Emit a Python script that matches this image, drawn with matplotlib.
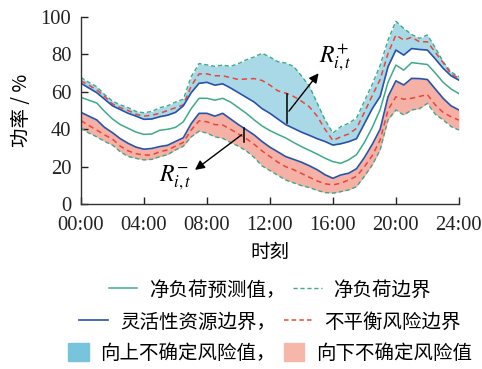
import matplotlib
matplotlib.use('Agg')
import matplotlib.pyplot as plt
from matplotlib.lines import Line2D
from matplotlib.patches import Patch

plt.rcParams['font.family'] = ['Liberation Serif', 'Noto Sans CJK SC', 'DejaVu Sans']
plt.rcParams['mathtext.fontset'] = 'stix'

# half-hour time grid (%)
hours = [i * 0.5 for i in range(49)]

net_load = [57, 55.5, 54, 49.5, 45.5, 42.5, 40.5, 38.5, 37.3, 37.5, 39.5, 40, 41, 44, 51, 56.5,
            56.5, 55.5, 56.5, 54.5, 51.5, 48.5, 45, 41.8, 39.3, 37.3, 35.4, 33, 30.8, 28.8, 26.8, 24.6,
            22.8, 21.9, 23.7, 26.5, 33, 41, 50.5, 65, 74.2, 71.5, 75.5, 75, 74.5, 70, 65, 61.5, 59]

flex_up = [64.5, 62, 59.5, 56, 52.5, 50.5, 48.5, 47, 45.3, 45.5, 46.7, 47.5, 49, 52.5, 59.5, 64.5,
           65, 63.5, 64.2, 62, 59.5, 57, 54.5, 51, 48.5, 45.5, 42.5, 40.5, 38.5, 36.8, 35, 33.5,
           31.6, 32.3, 33.4, 35, 43, 51, 57.5, 73.3, 82.2, 79.5, 83, 82.5, 82.2, 77.5, 72.5, 68.5, 66.2]

flex_lo = [49, 47, 45, 41, 38.2, 35, 32.5, 30.5, 29.4, 29.8, 30.8, 31.5, 33.5, 35.5, 43, 48.5,
           48.5, 47, 48.5, 45.5, 42.5, 39.8, 37, 33.5, 30.5, 28, 25.5, 24, 22.5, 20.6, 18.5, 15.8,
           13.9, 15.7, 16.6, 19, 25, 32, 40, 57.3, 65.8, 63.6, 67.1, 67, 66.5, 61.5, 56.5, 52.5, 50.3]

risk_up = [65.8, 63.5, 61, 57.5, 53.5, 51.5, 50, 48, 47, 47.5, 48.5, 50, 51.5, 53, 63, 69.5,
           69.5, 68.5, 68.5, 67.5, 66.5, 66.8, 67, 66, 63.5, 60.5, 59.3, 57.5, 55, 52, 47, 40,
           34, 36, 37.5, 40.5, 49, 58, 66.5, 80.4, 90.2, 87.5, 89, 86.6, 86.6, 81, 75.5, 69.5, 67.1]

risk_lo = [44.6, 42, 39.6, 37, 34.8, 31, 28.5, 27, 26.3, 26.3, 28.1, 29, 31, 33, 39.6, 44.5,
           44, 42.5, 42.3, 40, 37.5, 35, 32, 28.5, 25.5, 22.5, 20.1, 18.5, 16.5, 14.5, 12.5, 11,
           10.4, 11.3, 13, 15, 20, 26, 34.3, 50.3, 57.3, 56, 56.5, 57.5, 58.5, 53, 49, 46.7, 44.9]

load_up = [67.6, 65, 62.7, 58.5, 55, 53, 51.5, 49.5, 48.8, 49.5, 51.5, 52.5, 54.5, 56, 68, 75,
           74.3, 73.5, 74.2, 73.5, 75, 77, 78.5, 80.5, 78.5, 76, 75.3, 73.5, 68.5, 63, 54, 45,
           38, 41.4, 43.2, 46, 55, 64, 74, 87.5, 97.5, 93.7, 90.5, 88.4, 90.2, 83.5, 76, 70.5, 68]

load_lo = [40.5, 38, 36, 33.5, 31.6, 28, 25.5, 24.5, 23.7, 24, 25.4, 26.5, 29, 31, 36, 39,
           38, 36, 35.2, 33, 31, 28.5, 25, 20.5, 18, 15.5, 13, 11.5, 10, 9, 7.5, 6.3,
           6, 6.8, 7.7, 9.5, 15, 21, 29, 45, 50.3, 47.6, 50.3, 51, 53.8, 48, 45, 41.5, 39.6]

xticks = [0, 4, 8, 12, 16, 20, 24]
xlabels = ['00:00', '04:00', '08:00', '12:00', '16:00', '20:00', '24:00']

green = '#3fa98a'
blue = '#2a52a8'
red = '#e8463c'
fill_up = '#a9d9e7'
fill_lo = '#f5b1a5'

fig = plt.figure(figsize=(4.82, 3.69), dpi=100)
ax = fig.add_axes([0.168, 0.446, 0.784, 0.509])

ax.fill_between(hours, flex_up, load_up, color=fill_up, lw=0)
ax.fill_between(hours, load_lo, flex_lo, color=fill_lo, lw=0)

ax.plot(hours, load_up, color=green, lw=1.0, ls=(0, (3, 2)))
ax.plot(hours, load_lo, color=green, lw=1.0, ls=(0, (3, 2)))
ax.plot(hours, risk_up, color=red, lw=1.1, ls=(0, (3.5, 2.5)))
ax.plot(hours, risk_lo, color=red, lw=1.1, ls=(0, (3.5, 2.5)))
ax.plot(hours, flex_up, color=blue, lw=1.2)
ax.plot(hours, flex_lo, color=blue, lw=1.2)
ax.plot(hours, net_load, color=green, lw=1.1)

# R+ / R- markers
ax.plot([13.1, 13.1], [43.5, 59], color='k', lw=1.1)
ax.annotate('', xy=(15.2, 71), xytext=(13.1, 48.5),
            arrowprops=dict(arrowstyle='-|>', color='k', lw=1.0, mutation_scale=14))
ax.text(15.1, 78, r'$R_{i,t}^{+}$', fontsize=17, ha='left', va='center')
ax.plot([10.35, 10.35], [33.5, 40.5], color='k', lw=1.1)
ax.annotate('', xy=(7.1, 17.5), xytext=(10.35, 38),
            arrowprops=dict(arrowstyle='-|>', color='k', lw=1.0, mutation_scale=14))
ax.text(6.0, 14.5, r'$R_{i,t}^{-}$', fontsize=17, ha='center', va='center')

ax.set_xlim(0, 24)
ax.set_ylim(0, 100)
ax.set_xticks(xticks)
ax.set_xticklabels(xlabels)
ax.set_yticks([0, 20, 40, 60, 80, 100])
ax.tick_params(direction='in', length=5, width=1, labelsize=14.8, colors='#222222')
ax.tick_params(axis='x', pad=8)
ax.tick_params(axis='y', pad=7)
for s in ['top', 'right']:
    ax.spines[s].set_visible(False)
for s in ['left', 'bottom']:
    ax.spines[s].set_color('#333333')
    ax.spines[s].set_linewidth(1.0)

ax.set_ylabel('功率 / %', fontsize=14, family=['Noto Sans CJK SC', 'DejaVu Sans'], labelpad=6)
ax.set_xlabel('时刻', fontsize=14, family=['Noto Sans CJK SC', 'DejaVu Sans'], labelpad=5)

leg_font = {'family': ['Noto Sans CJK SC', 'DejaVu Sans'], 'size': 14}
rows = [
    ([Line2D([], [], color=green, lw=1.1), Line2D([], [], color=green, lw=1.0, ls=(0, (3, 2)))],
     ['净负荷预测值，', '净负荷边界'], 0.214, 1.45),
    ([Line2D([], [], color=blue, lw=1.2), Line2D([], [], color=red, lw=1.1, ls=(0, (3, 2)))],
     ['灵活性资源边界，', '不平衡风险边界'], 0.127, 1.5),
    ([Patch(color='#78c4dc'), Patch(color='#f7b6aa')],
     ['向上不确定风险值，', '向下不确定风险值'], 0.043, 1.05),
]
for handles, labels, yy, hl in rows:
    fig.legend(handles, labels, loc='center', bbox_to_anchor=(0.56, yy), ncol=2,
               frameon=False, prop=leg_font, handlelength=hl, handletextpad=0.6,
               columnspacing=0.4, borderpad=0, handleheight=1.05)

fig.savefig('out.png', dpi=100)
